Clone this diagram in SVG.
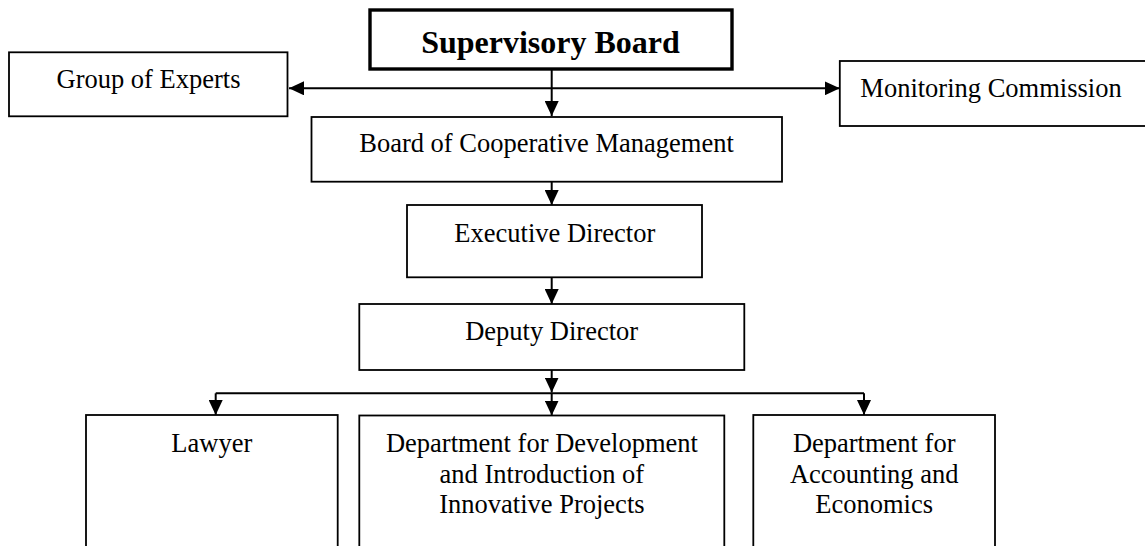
<svg xmlns="http://www.w3.org/2000/svg" width="1145" height="546" viewBox="0 0 1145 546">
<style>
.box{fill:#fff;stroke:#000;stroke-width:1.8}
.main{fill:#fff;stroke:#000;stroke-width:3.4}
.t{font-family:"Liberation Serif","Times New Roman",serif;font-size:26.5px;fill:#000;text-anchor:middle}
.tb{font-family:"Liberation Serif","Times New Roman",serif;font-size:32px;font-weight:bold;fill:#000;text-anchor:middle}
.c{fill:none;stroke:#000;stroke-width:2}
.a{marker-end:url(#arr)}
</style>
<defs>
<marker id="arr" markerUnits="userSpaceOnUse" markerWidth="15" markerHeight="14" viewBox="0 0 15 14" refX="15" refY="7" orient="auto">
<path d="M0,0 L15,7 L0,14 z" fill="#000"/>
</marker>
</defs>
<g id="connectors">
<path class="c a" d="M551.7,88.3 H289"/>
<path class="c a" d="M551.7,88.3 H839.8"/>
<path class="c a" d="M551.7,69 V116"/>
<path class="c a" d="M551.7,181.7 V205"/>
<path class="c a" d="M551.7,277.3 V304"/>
<path class="c a" d="M551.7,370 V392.5"/>
<path class="c" d="M215.7,393.3 H864"/>
<path class="c a" d="M215.7,393.3 V415"/>
<path class="c a" d="M551.7,393.3 V415.5"/>
<path class="c a" d="M864,393.3 V415"/>
</g>
<g id="supervisory-board">
<rect class="main" x="370" y="10" width="362" height="59"/>
<text class="tb" x="550.5" y="52.5">Supervisory Board</text>
</g>
<g id="group-of-experts">
<rect class="box" x="9" y="52.3" width="278.5" height="64"/>
<text class="t" x="148.5" y="88">Group of Experts</text>
</g>
<g id="monitoring-commission">
<rect class="box" x="839.8" y="61" width="320" height="65"/>
<text class="t" x="991" y="96.7">Monitoring Commission</text>
</g>
<g id="board-of-cooperative-management">
<rect class="box" x="311.5" y="117" width="470.5" height="64.7"/>
<text class="t" x="546.5" y="151.7">Board of Cooperative Management</text>
</g>
<g id="executive-director">
<rect class="box" x="407" y="205" width="295" height="72.3"/>
<text class="t" x="554.8" y="241.7">Executive Director</text>
</g>
<g id="deputy-director">
<rect class="box" x="359.3" y="304" width="385" height="66"/>
<text class="t" x="551.7" y="340">Deputy Director</text>
</g>
<g id="lawyer">
<rect class="box" x="86" y="415" width="251.7" height="150"/>
<text class="t" x="211.8" y="452.3">Lawyer</text>
</g>
<g id="department-development">
<rect class="box" x="359.3" y="415.5" width="365" height="150"/>
<text class="t" x="541.9" y="452"><tspan x="541.9" y="452">Department for Development</tspan><tspan x="541.9" y="482.5">and Introduction of</tspan><tspan x="541.9" y="513">Innovative Projects</tspan></text>
</g>
<g id="department-accounting">
<rect class="box" x="753.3" y="415" width="241.7" height="150"/>
<text class="t" x="874.2" y="452"><tspan x="874.2" y="452">Department for</tspan><tspan x="874.2" y="482.5">Accounting and</tspan><tspan x="874.2" y="513">Economics</tspan></text>
</g>
</svg>
